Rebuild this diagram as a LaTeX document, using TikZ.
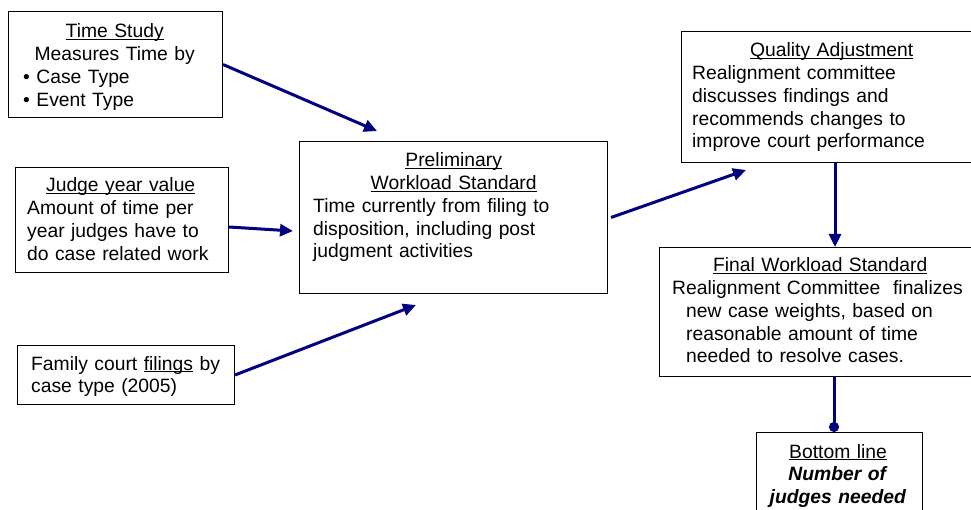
\documentclass[tikz,border=0pt]{standalone}
\usepackage{fontspec}
\setmainfont{Liberation Sans}
\usetikzlibrary{arrows.meta}
\definecolor{navyline}{RGB}{0,0,128}
\newcommand{\undl}[1]{\underline{\smash{#1}}}

\begin{document}
\begin{tikzpicture}[x=1pt, y=-1pt,
		box/.style={draw, line width=1pt, anchor=north west},
		txt/.style={inner sep=0pt, anchor=base west, font=\fontsize{19.3}{22.75}\selectfont},
		link/.style={navyline, line width=3pt, -{Triangle[length=13pt, width=12pt]}}]

	\useasboundingbox (0, 0) rectangle (971, 510);

		\node[box, minimum width=214pt, minimum height=106pt] (ts) at (8, 11) {};
		\node[box, minimum width=213pt, minimum height=105pt] (jyv) at (15, 167) {};
		\node[box, minimum width=217pt, minimum height=59pt] (fcf) at (17, 345) {};
		\node[box, minimum width=308pt, minimum height=152pt] (pws) at (299, 141) {};
		\node[box, minimum width=301pt, minimum height=131pt] (qa) at (681, 31) {};
		\node[box, minimum width=322pt, minimum height=129pt] (fws) at (659, 247) {};
		\node[box, minimum width=166pt, minimum height=100pt] (bl) at (756, 432) {};

		\node[txt, text width=183pt] (tsText) at (23, 38)
			{{\centering\undl{Time Study}\\ Measures Time by\par}\textbullet\ Case Type\\ \textbullet\ Event Type};
		\node[txt, text width=187pt] (jyvText) at (27, 192)
			{{\centering\undl{Judge year value}\par}Amount of time per\\ year judges have to\\ do case related work};
		\node[txt, text width=200pt] (fcfText) at (31, 370)
			{Family court \undl{filings} by\\ case type (2005)};
		\node[txt, text width=281pt] (pwsText) at (313, 167)
			{{\centering\undl{Preliminary}\\ \undl{Workload Standard}\par}Time currently from filing to\\ disposition, including post\\ judgment activities};
		\node[txt, text width=279pt] (qaText) at (692, 57)
			{{\centering\undl{Quality Adjustment}\par}Realignment committee\\ discusses findings and\\ recommends changes to\\ improve court performance};
		\node[txt, text width=296pt] (fwsText) at (672, 272)
			{{\centering\undl{Final Workload Standard}\par}Realignment Committee\ \ finalizes\\ \hspace*{14pt}new case weights, based on\\ \hspace*{14pt}reasonable amount of time\\ \hspace*{14pt}needed to resolve cases.};
		\node[txt, text width=160pt, align=center, anchor=base] (blText) at (838, 458)
			{\undl{Bottom line}\\ \textbf{\textit{Number of}}\\ \textbf{\textit{judges needed}}};

		\coordinate (tsEnd) at (377, 131);
		\coordinate (jyvEnd) at (293, 231);
		\coordinate (fcfEnd) at (416, 305);
		\coordinate (pwsEnd) at (746, 170);
		\coordinate (qaEnd) at (835, 247);
		\coordinate (fwsEnd) at (834, 432);

		\draw[link] (ts.east) -- (tsEnd);
		\draw[link] ([yshift=-7pt]jyv.east) -- (jyvEnd);
		\draw[link] (fcf.east) -- (fcfEnd);
		\draw[link] ([xshift=3pt]pws.east) -- (pwsEnd);
		\draw[link] (qa.south -| qaEnd) -- (qaEnd);
		\draw[link, -{Circle[length=10pt]}] (fws.south -| fwsEnd) -- (fwsEnd);

\end{tikzpicture}
\end{document}
